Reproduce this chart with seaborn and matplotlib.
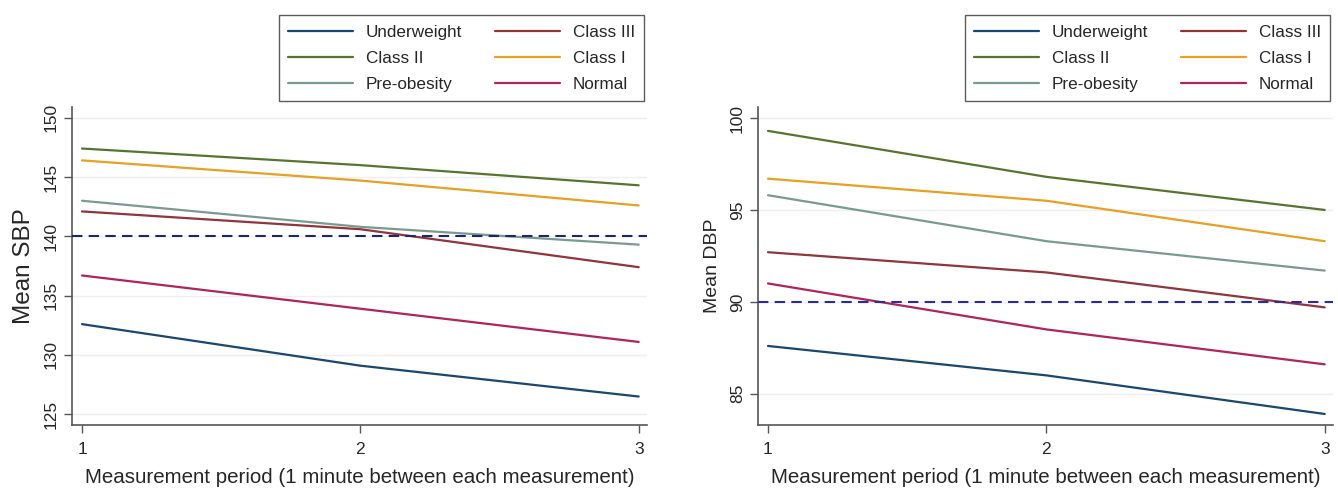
import pandas as pd
import seaborn as sns
import matplotlib.pyplot as plt

periods = [1, 2, 3]
groups = ["Underweight", "Class II", "Pre-obesity", "Class III", "Class I", "Normal"]

sbp_underweight = [132.6, 129.1, 126.5]
sbp_class3 = [142.1, 140.6, 137.4]
sbp_class2 = [147.4, 146.0, 144.3]
sbp_class1 = [146.4, 144.7, 142.6]
sbp_preobesity = [143.0, 140.8, 139.3]
sbp_normal = [136.7, 133.9, 131.1]

dbp_underweight = [87.6, 86.0, 83.9]
dbp_class3 = [92.7, 91.6, 89.7]
dbp_class2 = [99.3, 96.8, 95.0]
dbp_class1 = [96.7, 95.5, 93.3]
dbp_preobesity = [95.8, 93.3, 91.7]
dbp_normal = [91.0, 88.5, 86.6]

sbp_threshold = 140
dbp_threshold = 90

# Stata s2color-like palette
palette = {
    "Underweight": "#1a476f",
    "Class III": "#90353b",
    "Class II": "#55752f",
    "Class I": "#e8a020",
    "Pre-obesity": "#7a9a90",
    "Normal": "#b0245a",
}


def to_long(series):
    rows = []
    for g, vals in series.items():
        for p, v in zip(periods, vals):
            rows.append({"period": p, "group": g, "value": v})
    return pd.DataFrame(rows)


sbp = to_long({
    "Underweight": sbp_underweight, "Class III": sbp_class3, "Class II": sbp_class2,
    "Class I": sbp_class1, "Pre-obesity": sbp_preobesity, "Normal": sbp_normal,
})
dbp = to_long({
    "Underweight": dbp_underweight, "Class III": dbp_class3, "Class II": dbp_class2,
    "Class I": dbp_class1, "Pre-obesity": dbp_preobesity, "Normal": dbp_normal,
})

sns.set_style("white")
plt.rcParams["font.family"] = ["Liberation Sans", "DejaVu Sans"]

fig = plt.figure(figsize=(13.38, 4.91), dpi=100)
ax1 = fig.add_axes([0.0538, 0.1344, 0.4298, 0.6477])
ax2 = fig.add_axes([0.5665, 0.1344, 0.4298, 0.6477])

panels = [
    (ax1, sbp, sbp_threshold, "#1c2670", "Mean SBP", 17.5, (124.1, 150.9), [125, 130, 135, 140, 145, 150]),
    (ax2, dbp, dbp_threshold, "#2a2aa8", "Mean DBP", 14, (83.3, 100.6), [85, 90, 95, 100]),
]

for ax, df, thr, thr_color, ylabel, ylsize, ylim, yticks in panels:
    for y in yticks:
        ax.axhline(y, color="#efefef", lw=1, zorder=0)
    sns.lineplot(data=df, x="period", y="value", hue="group", hue_order=groups,
                 palette=palette, lw=1.6, ax=ax)
    ax.axhline(thr, color=thr_color, lw=1.5, ls=(0, (5, 3)), zorder=3)

    ax.set_xlim(0.964, 3.03)
    ax.set_ylim(*ylim)
    ax.set_xticks(periods)
    ax.set_yticks(yticks)
    ax.set_xlabel("Measurement period (1 minute between each measurement)",
                  fontsize=14.8, labelpad=8)
    ax.set_ylabel(ylabel, fontsize=ylsize, labelpad=6)
    for lab in ax.get_yticklabels():
        lab.set_rotation(90)
        lab.set_va("center")
    ax.tick_params(axis="both", labelsize=12.5, length=6, width=1, color="#555555",
                   direction="out", bottom=True, left=True)
    ax.tick_params(axis="x", pad=6)
    for s in ["top", "right"]:
        ax.spines[s].set_visible(False)
    for s in ["left", "bottom"]:
        ax.spines[s].set_color("#555555")
        ax.spines[s].set_linewidth(1.2)

    handles, labels = ax.get_legend_handles_labels()
    ax.legend(handles, labels, ncol=2, loc="lower right", bbox_to_anchor=(0.995, 1.018),
              fontsize=12.3, frameon=True, fancybox=False, edgecolor="#333333",
              handlelength=3.8, handletextpad=0.75, columnspacing=1.9,
              borderpad=0.55, labelspacing=0.65, borderaxespad=0)
    ax.get_legend().get_frame().set_linewidth(1.0)

fig.savefig("out.png", dpi=100)
